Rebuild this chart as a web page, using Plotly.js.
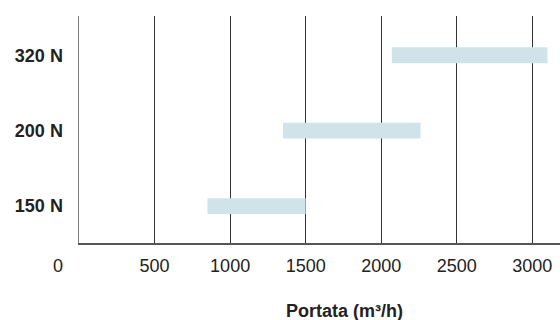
<!DOCTYPE html>
<html>
<head>
<meta charset="utf-8">
<script src="https://cdn.plot.ly/plotly-3.0.1.min.js"></script>
<style>html,body{margin:0;padding:0;background:#fff;}#chart{width:560px;height:320px;}</style>
</head>
<body>
<div id="chart"></div>
<script>
const categories = ['150 N', '200 N', '320 N'];
const flowMin = [850, 1350, 2070];
const flowMax = [1500, 2260, 3100];
const xTickVals = [500, 1000, 1500, 2000, 2500, 3000];
const xTickText = ['500', '1000', '1500', '2000', '2500', '3000'];
const zeroLabel = '0';
const xTitle = 'Portata (m³/h)';

const trace = {
  type: 'bar',
  orientation: 'h',
  y: categories,
  base: flowMin,
  x: flowMax.map((v, i) => v - flowMin[i]),
  width: 0.21,
  marker: {color: '#d0e3e8', line: {width: 0}},
  hoverinfo: 'skip'
};

const layout = {
  width: 560, height: 320,
  margin: {l: 79, r: 0, t: 16, b: 77},
  paper_bgcolor: '#fff', plot_bgcolor: '#fff',
  font: {family: 'Liberation Sans, Arial, sans-serif', size: 18, color: '#222'},
  showlegend: false,
  xaxis: {
    range: [0, 3183],
    tickvals: xTickVals, ticktext: xTickText,
    showgrid: true, gridcolor: '#333', gridwidth: 1,
    zeroline: false,
    showline: true, linecolor: '#555', linewidth: 2,
    ticks: '', ticklabelstandoff: 5,
    tickfont: {size: 18, color: '#222'}
  },
  yaxis: {
    type: 'category',
    categoryorder: 'array', categoryarray: categories,
    range: [-0.49, 2.52],
    showgrid: false, zeroline: false,
    showline: true, linecolor: '#808080', linewidth: 1.5,
    ticks: '', ticklabelstandoff: 11,
    tickfont: {size: 18, color: '#222', weight: 600}
  },
  annotations: [
    {text: zeroLabel, xref: 'paper', yref: 'paper', x: -0.043, y: -0.1, xanchor: 'center', yanchor: 'middle', showarrow: false, font: {size: 18, color: '#222'}},
    {text: xTitle, xref: 'paper', yref: 'paper', x: 0.551, y: -0.2996, xanchor: 'center', yanchor: 'middle', showarrow: false, font: {size: 18, color: '#222', weight: 'bold'}}
  ]
};

Plotly.newPlot('chart', [trace], layout, {staticPlot: true, displayModeBar: false});
</script>
</body>
</html>
